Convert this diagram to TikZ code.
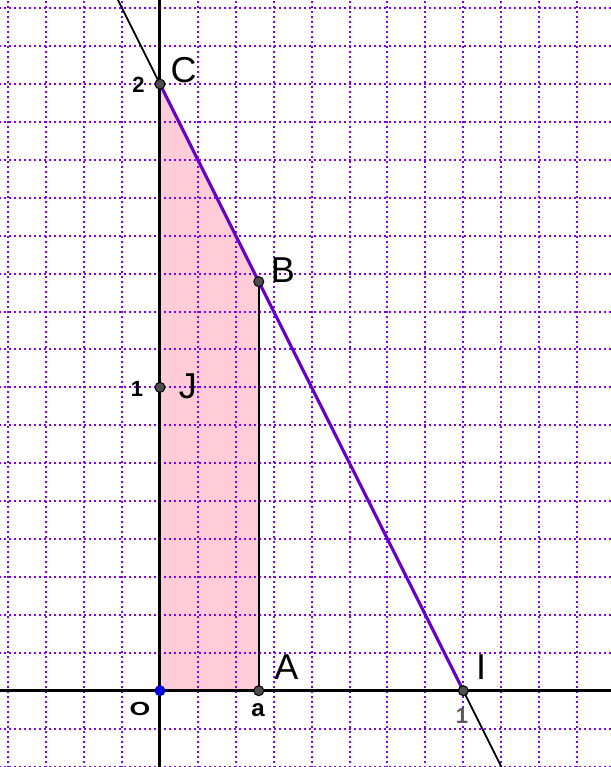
\documentclass[tikz,border=0pt]{standalone}
\usepackage{fontspec}
\setmainfont{Liberation Sans}
\definecolor{gridc}{RGB}{128,0,240}
\definecolor{segc}{RGB}{102,0,204}
\definecolor{pinkc}{RGB}{255,204,216}
\definecolor{ptfill}{RGB}{77,77,77}
\definecolor{greyc}{RGB}{90,90,90}
\tikzset{
  gridline/.style={gridc, line width=2pt, dash pattern=on 2pt off 3pt, dash phase=1pt},
  axis/.style={black, line width=3pt},
  thinline/.style={black, line width=1.8pt},
  seg/.style={segc, line width=3.2pt},
  pt/.style={circle, fill=ptfill, draw=black, line width=1pt, minimum size=10pt, inner sep=0pt},
  opt/.style={circle, fill=blue, draw=blue!60!black, line width=0.8pt, minimum size=10pt, inner sep=0pt},
  biglab/.style={font=\fontsize{36}{36}\selectfont, inner sep=0pt, anchor=center},
  smalllab/.style={font=\fontsize{22}{22}\selectfont\bfseries, inner sep=0pt, anchor=center}
}
\begin{document}
\begin{tikzpicture}[x=303.3pt,y=303.3pt]
\useasboundingbox (-0.52753,-0.25157) rectangle (1.48698,2.27728);
% points
\coordinate (O) at (0,0);
\coordinate (A) at (0.3257,0);
\coordinate (B) at (0.3257,1.3486);
\coordinate (C) at (0,2);
\coordinate (J) at (0,1);
\coordinate (I) at (1,0);
\coordinate (Ltop) at (-0.1386,2.27728);
\coordinate (Lbot) at (1.1258,-0.25157);
\coordinate (Xl) at (-0.52753,0);
\coordinate (Xr) at (1.48698,0);
\coordinate (Yt) at (0,2.27728);
\coordinate (Yb) at (0,-0.25157);
% pink region
\fill[pinkc] (O) -- (A) -- (B) -- (C) -- cycle;
% grid
\foreach \i in {-4,...,11} {
  \draw[gridline] (\i/8,-0.25157) -- (\i/8,2.27728);
}
\foreach \j in {-2,...,18} {
  \draw[gridline] (-0.52753,\j/8) -- (1.48698,\j/8);
}
% axes
\draw[axis] (Xl) -- (Xr);
\draw[axis] (Yb) -- (Yt);
% line (CI)
\draw[thinline] (Ltop) -- (Lbot);
% segment AB
\draw[thinline] (A) -- (B);
% segment CI
\draw[seg] (C) -- (I);
% point markers
\node[pt] (pC) at (C) {};
\node[pt] (pB) at (B) {};
\node[pt] (pJ) at (J) {};
\node[pt] (pA) at (A) {};
\node[pt] (pI) at (I) {};
\node[opt] (pO) at (O) {};
% labels
\node[smalllab] (t2) at (-0.0709,1.9987) {2};
\node[biglab] (lC) at (0.0775,2.0465) {C};
\node[biglab] (lB) at (0.4055,1.3871) {B};
\node[smalllab] (t1) at (-0.0758,0.9947) {1};
\node[biglab] (lJ) at (0.0923,1.0046) {J};
\node[smalllab, font=\fontsize{19}{19}\selectfont\bfseries] (lO) at (-0.0659,-0.0603) {\scalebox{1.4}[1]{O}};
\node[biglab] (lA) at (0.4171,0.0765) {A};
\node[smalllab, font=\fontsize{24}{24}\selectfont\bfseries] (la) at (0.3231,-0.0636) {a};
\node[biglab] (lI) at (1.0584,0.0765) {I};
\node[smalllab, greyc] (t1x) at (0.9957,-0.0834) {1};
\end{tikzpicture}
\end{document}
